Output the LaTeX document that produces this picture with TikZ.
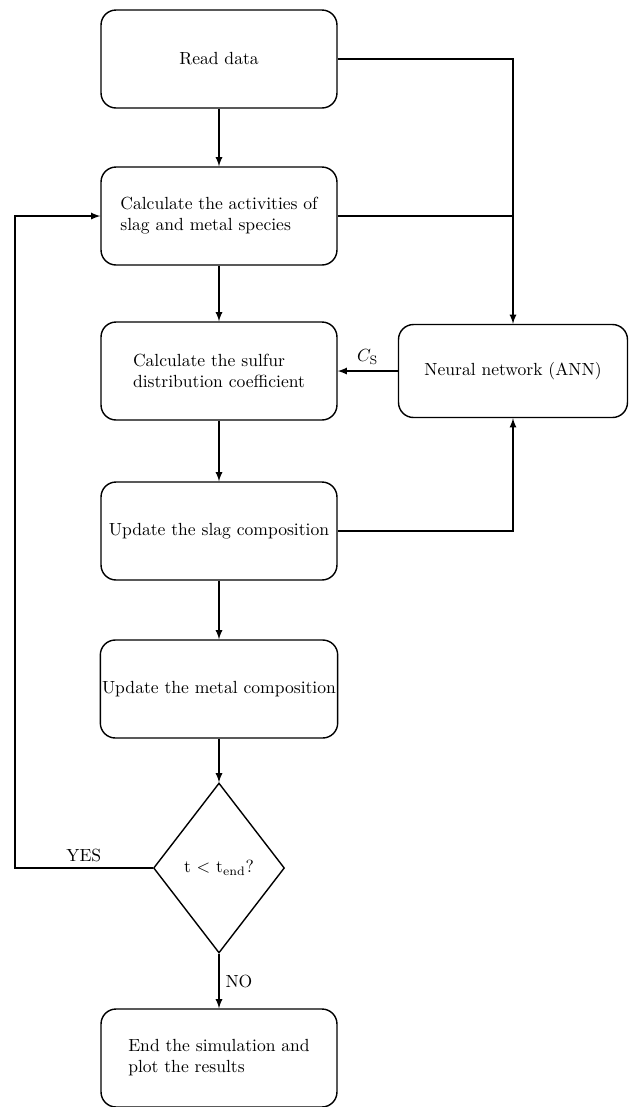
\documentclass[tikz,border=0pt]{standalone}
\usetikzlibrary{shapes.geometric}
\tikzset{
  box/.style={draw, line width=0.8pt, rounded corners=0.3cm, minimum width=4.72cm, minimum height=1.96cm, inner xsep=1pt, align=left},
  line/.style={line width=0.8pt},
}
\begin{document}
\begin{tikzpicture}[x=0.02cm,y=-0.02cm,>=latex]
\useasboundingbox (0,0) rectangle (629,1107);

%Hauptkette
\node[box] (read) at (219,59) {Read data};
\node[box] (activ) at (219,216) {Calculate the activities of\\slag and metal species};
\node[box] (sulfur) at (219,371) {Calculate the sulfur\\distribution coefficient};
\node[box] (slag) at (219,531) {Update the slag composition};
\node[box] (metal) at (219,689) {Update the metal composition};
\node[draw, line width=0.8pt, diamond, minimum width=2.62cm, minimum height=3.4cm, inner sep=0pt] (check) at (219,868) {t $<$ t\textsubscript{end}?};
\node[box] (finish) at (219,1058) {End the simulation and\\plot the results};

%Neuronales Netz
\node[box, minimum width=4.58cm, minimum height=1.86cm] (ann) at (513,371) {Neural network (ANN)};

\draw[line,->] (read) -- (activ);
\draw[line,->] (activ) -- (sulfur);
\draw[line,->] (sulfur) -- (slag);
\draw[line,->] (slag) -- (metal);
\draw[line,->] (metal) -- (check);
\draw[line,->] (check) -- node[right] {NO} (finish);

\draw[line,->] (read.east) -| (ann.north);
\draw[line] (activ.east) -- (activ.east -| ann.north);
\draw[line,->] (slag.east) -| (ann.south);
\draw[line,->] (ann.west) -- node[above] {$C_\mathrm{S}$} (sulfur.east);

%Schleife
\draw[line,->] (check.west) -- node[above] {YES} ++(-138,0) |- (activ.west);

\end{tikzpicture}
\end{document}
